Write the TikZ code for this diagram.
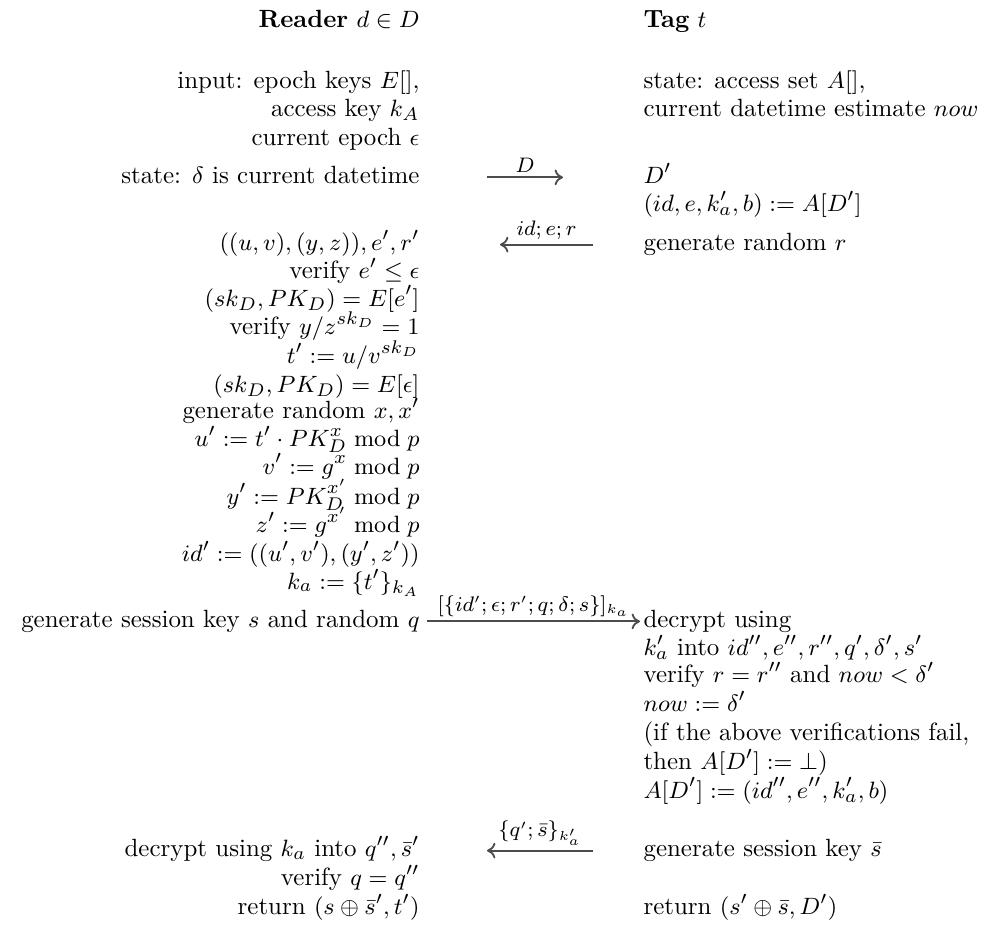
\documentclass[tikz,border=0pt]{standalone}
\usepackage{amsmath,amssymb}
\usetikzlibrary{arrows.meta}
\begin{document}
\begin{tikzpicture}[x=0.381pt,y=-0.381pt,
  txt/.style={inner sep=0pt, font=\fontsize{9.5}{11}\selectfont},
  lc/.style={txt, anchor=base east},
  rc/.style={txt, anchor=base west},
  msg/.style={draw=black!70, line width=0.7pt, -{Computer Modern Rightarrow[length=3.2pt,width=6pt]}},
  lab/.style={above=1.5pt, inner sep=0pt, font=\fontsize{7.6}{9}\selectfont}
]
\useasboundingbox (0,0) rectangle (981,934);
% headers
\node[lc] (rh) at (420,27.6) {\textbf{Reader} $d\in D$};
\node[rc] (th) at (643,27.6) {\textbf{Tag} $t$};
% reader column
\node[lc] (l1)  at (420,88.8)  {input: epoch keys $E[]$,};
\node[lc] (l2)  at (420,116.4) {access key $k_A$};
\node[lc] (l3)  at (420,145.2) {current epoch $\epsilon$};
\node[lc] (l4)  at (420,183.6) {state: $\delta$ is current datetime};
\node[lc] (l6)  at (420,250.8) {$((u,v),(y,z)),e',r'$};
\node[lc] (l7)  at (420,278.4) {verify $e'\leq\epsilon$};
\node[lc] (l8)  at (420,306)   {$(sk_D,PK_D)=E[e']$};
\node[lc] (l9)  at (420,334.8) {verify $y/z^{sk_D}=1$};
\node[lc] (l10) at (420,363.6) {$t':=u/v^{sk_D}$};
\node[lc] (l11) at (420,392.4) {$(sk_D,PK_D)=E[\epsilon]$};
\node[lc] (l12) at (420,418.8) {generate random $x,x'$};
\node[lc] (l13) at (420,446.4) {$u':=t'\cdot PK_D^x \bmod p$};
\node[lc] (l14) at (420,474)   {$v':=g^x \bmod p$};
\node[lc] (l15) at (420,504)   {$y':=PK_D^{x'} \bmod p$};
\node[lc] (l16) at (420,532.8) {$z':=g^{x'} \bmod p$};
\node[lc] (l17) at (420,561.6) {$id':=((u',v'),(y',z'))$};
\node[lc] (l18) at (420,589.2) {$k_a:=\{t'\}_{k_A}$};
\node[lc] (l19) at (420,627.6) {generate session key $s$ and random $q$};
\node[lc] (l26) at (420,856.8) {decrypt using $k_a$ into $q'',\bar{s}'$};
\node[lc] (l27) at (420,885.6) {verify $q=q''$};
\node[lc] (l28) at (420,914.4) {return $(s\oplus\bar{s}',t')$};
% tag column
\node[rc] (r1)  at (643,88.8)  {state: access set $A[]$,};
\node[rc] (r2)  at (643,116.4) {current datetime estimate $now$};
\node[rc] (r4)  at (643,183.6) {$D'$};
\node[rc] (r5)  at (643,211.2) {$(id,e,k'_a,b):=A[D']$};
\node[rc] (r6)  at (643,250.8) {generate random $r$};
\node[rc] (r19) at (643,627.6) {decrypt using};
\node[rc] (r20) at (643,655.2) {$k'_a$ into $id'',e'',r'',q',\delta',s'$};
\node[rc] (r21) at (643,682.8) {verify $r=r''$ and $now<\delta'$};
\node[rc] (r22) at (643,711.6) {$now:=\delta'$};
\node[rc] (r23) at (643,740.4) {(if the above verifications fail,};
\node[rc] (r24) at (643,769.2) {then $A[D']:=\bot$)};
\node[rc] (r25) at (643,798)   {$A[D']:=(id'',e'',k'_a,b)$};
\node[rc] (r26) at (643,856.8) {generate session key $\bar{s}$};
\node[rc] (r28) at (643,914.4) {return $(s'\oplus\bar{s},D')$};
% message endpoints
\coordinate (m1a) at (487,177.4);
\coordinate (m1b) at (563,177.4);
\coordinate (m2a) at (593,244.6);
\coordinate (m2b) at (500,244.6);
\coordinate (m3a) at (427,621.4);
\coordinate (m3b) at (640,621.4);
\coordinate (m4a) at (593,850.6);
\coordinate (m4b) at (487,850.6);
% messages
\draw[msg] (m1a) -- node[lab] {$D$} (m1b);
\draw[msg] (m2a) -- node[lab] {$id;e;r$} (m2b);
\draw[msg] (m3a) -- node[lab] {$[\{id';\epsilon;r';q;\delta;s\}]_{k_a}$} (m3b);
\draw[msg] (m4a) -- node[lab] {$\{q';\bar{s}\}_{k'_a}$} (m4b);
\end{tikzpicture}
\end{document}
